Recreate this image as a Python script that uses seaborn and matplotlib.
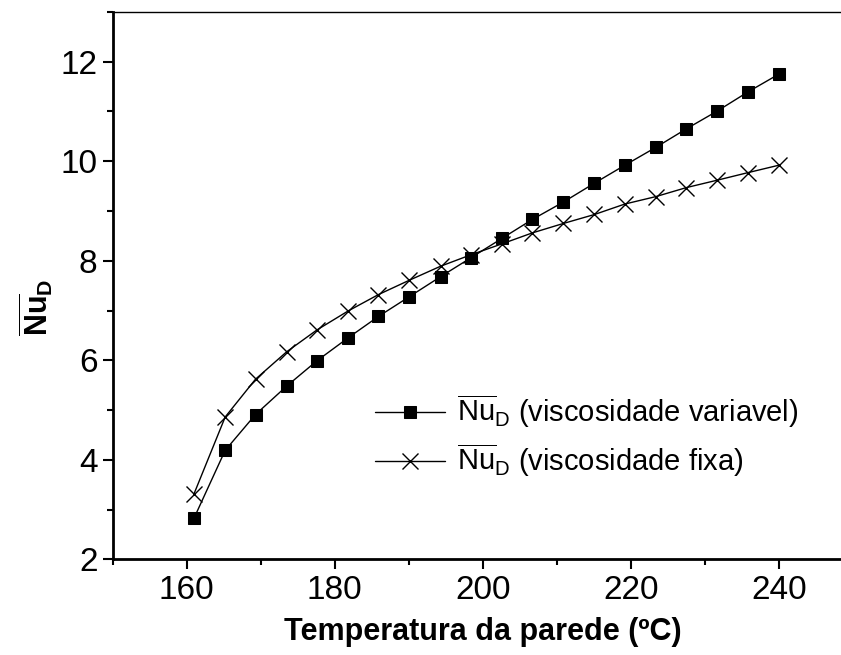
import pandas as pd
import matplotlib
matplotlib.use("Agg")
import matplotlib.pyplot as plt
from matplotlib.ticker import MultipleLocator
import seaborn as sns

# temperatura da parede (ºC)
temperatura = [161.0, 165.2, 169.3, 173.5, 177.6, 181.8, 185.9, 190.1, 194.3, 198.4,
               202.6, 206.7, 210.9, 215.1, 219.2, 223.4, 227.5, 231.7, 235.8, 240.0]
# Nu_D com viscosidade variavel
nu_variavel = [2.83, 4.19, 4.91, 5.48, 5.99, 6.45, 6.88, 7.28, 7.68, 8.06,
               8.45, 8.83, 9.18, 9.56, 9.92, 10.28, 10.65, 11.01, 11.39, 11.75]
# Nu_D com viscosidade fixa
nu_fixa = [3.32, 4.86, 5.62, 6.17, 6.61, 6.99, 7.32, 7.61, 7.89, 8.12,
           8.34, 8.56, 8.75, 8.93, 9.14, 9.29, 9.47, 9.62, 9.77, 9.92]

rotulos = [r"$\overline{\mathrm{Nu}}_\mathrm{D}$ (viscosidade variavel)",
           r"$\overline{\mathrm{Nu}}_\mathrm{D}$ (viscosidade fixa)"]

df = pd.DataFrame({"T": temperatura, "var": nu_variavel, "fixa": nu_fixa})

sns.set_style("ticks")
plt.rcParams["font.family"] = ["Liberation Sans", "DejaVu Sans"]
plt.rcParams["mathtext.fontset"] = "custom"
plt.rcParams["mathtext.rm"] = "Liberation Sans"
plt.rcParams["mathtext.bf"] = "Liberation Sans:bold"
plt.rcParams["text.color"] = "black"
plt.rcParams["axes.labelcolor"] = "black"
plt.rcParams["xtick.color"] = "black"
plt.rcParams["ytick.color"] = "black"

fig = plt.figure(figsize=(8.41, 6.55), dpi=100)
ax = fig.add_axes([0.134, 0.1461, 0.880, 0.8356])

sns.lineplot(data=df, x="T", y="var", ax=ax, color="black", lw=1,
             marker="s", markersize=9, markeredgecolor="black", label=rotulos[0])
sns.lineplot(data=df, x="T", y="fixa", ax=ax, color="black", lw=1,
             marker="x", markersize=11, markeredgewidth=1,
             markeredgecolor="black", label=rotulos[1])

ax.set_xlim(150, 250)
ax.set_ylim(2, 13)
ax.xaxis.set_major_locator(MultipleLocator(20))
ax.xaxis.set_minor_locator(MultipleLocator(10))
ax.yaxis.set_major_locator(MultipleLocator(2))
ax.yaxis.set_minor_locator(MultipleLocator(1))
ax.tick_params(which="major", direction="out", length=7, width=1.5,
               labelsize=24, pad=4)
ax.tick_params(which="minor", direction="out", length=4, width=1.5)

for s in ["left", "bottom"]:
    ax.spines[s].set_linewidth(2)
    ax.spines[s].set_color("black")
ax.spines["top"].set_visible(True)
ax.spines["top"].set_linewidth(1)
ax.spines["top"].set_color("black")
ax.spines["right"].set_visible(False)

ax.set_xlabel("Temperatura da parede (ºC)", fontsize=22, fontweight="bold",
              labelpad=8)
ax.set_ylabel(r"$\overline{\mathbf{Nu}}_\mathbf{D}$", fontsize=22)
ax.yaxis.set_label_coords(-0.078, 0.46)

leg = ax.legend(loc="upper left", bbox_to_anchor=(0.432, 0.418),
                bbox_transform=fig.transFigure, frameon=False, fontsize=21,
                handlelength=2.4, handletextpad=0.4, labelspacing=0.4,
                borderaxespad=0)

fig.savefig("out.png", dpi=100)
